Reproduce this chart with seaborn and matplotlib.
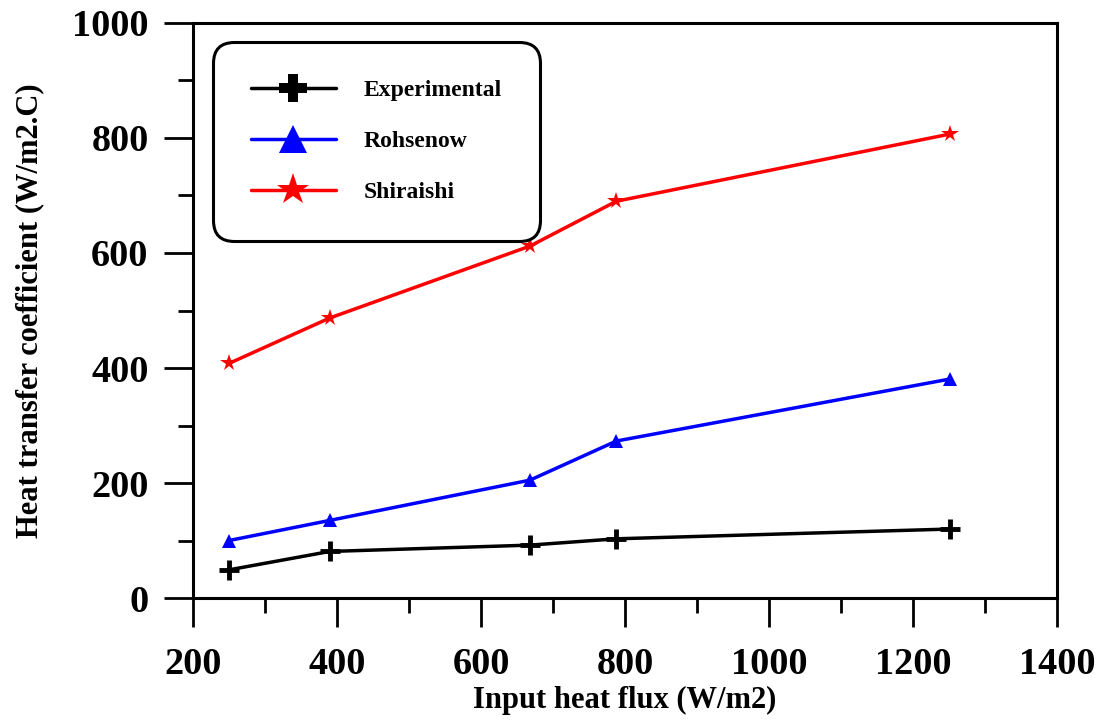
import matplotlib
matplotlib.use("Agg")
import matplotlib.pyplot as plt
from matplotlib.lines import Line2D
from matplotlib.ticker import MultipleLocator
import seaborn as sns
import pandas as pd

heat_flux = [250, 390, 668, 788, 1252]
experimental = [49, 81, 92, 103, 120]
rohsenow = [100, 135, 205, 273, 381]
shiraishi = [408, 487, 612, 690, 807]

series_names = ["Experimental", "Rohsenow", "Shiraishi"]
series_values = [experimental, rohsenow, shiraishi]
colors = ["black", "blue", "red"]
markers = ["+", "^", "*"]

sns.set_theme(style="white")
plt.rcParams["font.family"] = ["Liberation Serif", "DejaVu Serif"]
plt.rcParams["font.weight"] = "bold"
plt.rcParams["text.color"] = "black"
plt.rcParams["axes.labelcolor"] = "black"
plt.rcParams["xtick.color"] = "black"
plt.rcParams["ytick.color"] = "black"

fig = plt.figure(figsize=(10.99, 7.2), dpi=100)
ax = fig.add_axes([0.1756, 0.1694, 0.7862, 0.7987])

for name, vals, c, m in zip(series_names, series_values, colors, markers):
    df = pd.DataFrame({"x": heat_flux, "y": vals})
    if m == "+":
        sns.lineplot(data=df, x="x", y="y", ax=ax, color=c, marker=m, markersize=14,
                     markeredgewidth=3.5, linewidth=2.5, markeredgecolor=c)
    elif m == "^":
        sns.lineplot(data=df, x="x", y="y", ax=ax, color=c, marker=m, markersize=10,
                     markeredgewidth=0, linewidth=2.5)
    else:
        sns.lineplot(data=df, x="x", y="y", ax=ax, color=c, marker=m, markersize=13,
                     markeredgewidth=0, linewidth=2.5)

ax.set_xlim(200, 1400)
ax.set_ylim(0, 1000)
ax.xaxis.set_major_locator(MultipleLocator(200))
ax.xaxis.set_minor_locator(MultipleLocator(100))
ax.yaxis.set_major_locator(MultipleLocator(200))
ax.yaxis.set_minor_locator(MultipleLocator(100))
ax.tick_params(axis="both", which="major", direction="out", length=21, width=2,
               labelsize=27.5, colors="black", bottom=True, left=True)
ax.tick_params(axis="x", which="major", pad=14)
ax.tick_params(axis="y", which="major", pad=11)
ax.tick_params(axis="both", which="minor", direction="out", length=11, width=2,
               bottom=True, left=True)
for lab in ax.get_xticklabels() + ax.get_yticklabels():
    lab.set_fontweight("bold")
    lab.set_color("black")

for sp in ax.spines.values():
    sp.set_visible(True)
    sp.set_color("black")
    sp.set_linewidth(2.2)

ax.set_xlabel("Input heat flux (W/m2)", fontsize=22, fontweight="bold", labelpad=3, color="black")
ax.set_ylabel("Heat transfer coefficient (W/m2.C)", fontsize=22, fontweight="bold", labelpad=20, color="black")

handles = [
    Line2D([], [], color="black", marker="P", markersize=20, markeredgewidth=0, linewidth=2.5),
    Line2D([], [], color="blue", marker="^", markersize=20, markeredgewidth=0, linewidth=2.5),
    Line2D([], [], color="red", marker="*", markersize=24, markeredgewidth=0, linewidth=2.5),
]
leg = ax.legend(handles, series_names, loc="upper left", bbox_to_anchor=(0.023, 0.967),
                borderaxespad=0, frameon=True, fancybox=True, prop={"size": 17, "weight": "bold"},
                borderpad=1.6, labelspacing=1.25, handlelength=3.6, handletextpad=1.2)
for t in leg.get_texts():
    t.set_color("black")
frame = leg.get_frame()
frame.set_edgecolor("black")
frame.set_linewidth(2.2)
frame.set_alpha(1)
frame.set_boxstyle("round", pad=0, rounding_size=0.9)

fig.savefig("out.png", dpi=100)
